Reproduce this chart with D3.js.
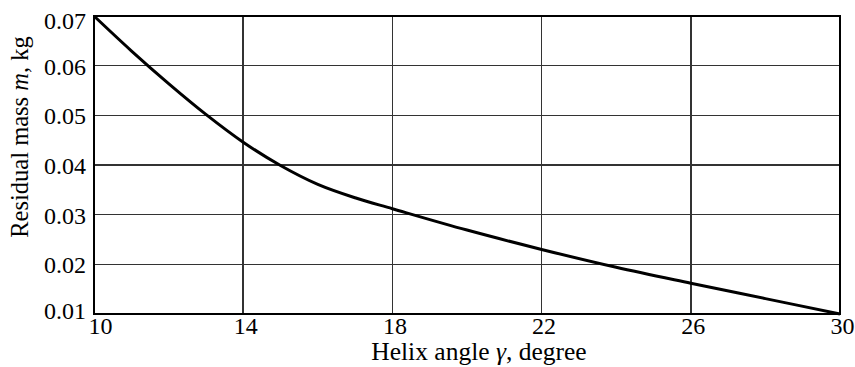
<!DOCTYPE html>
<meta charset="utf-8">
<style>
body { margin: 0; background: #fff; }
text { font-family: "Liberation Serif", "Times New Roman", serif; fill: #000; }
.grid line { stroke: #333; stroke-width: 1.5px; shape-rendering: crispEdges; }
</style>
<body>
<script src="https://d3js.org/d3.v7.min.js"></script>
<script>

// helix angle (degree) and residual mass (kg)
var angle = [10, 11, 12, 13, 14, 15, 16, 17, 18, 20, 22, 24, 26, 28, 30];
var mass  = [0.070, 0.0630, 0.0564, 0.0502, 0.0446, 0.0399, 0.0361, 0.0334, 0.0312, 0.0269, 0.0230, 0.0194, 0.0162, 0.0131, 0.0100];
var xTicks = [10, 14, 18, 22, 26, 30];
var yTicks = [0.01, 0.02, 0.03, 0.04, 0.05, 0.06, 0.07];

var W = 855, H = 367;
var m = {left: 94, right: 15, top: 16, bottom: 53};
var serif = "Liberation Serif, Times New Roman, serif";

var svg = d3.select("body").append("svg").attr("width", W).attr("height", H);

var x = d3.scaleLinear().domain([10, 30]).range([m.left, W - m.right]);
var y = d3.scaleLinear().domain([0.01, 0.07]).range([H - m.bottom, m.top]);

// grid
var grid = svg.append("g").attr("class", "grid");
grid.selectAll(".vx").data(xTicks).enter().append("line")
  .attr("x1", d => x(d)).attr("x2", d => x(d))
  .attr("y1", y(0.07)).attr("y2", y(0.01));
grid.selectAll(".hy").data(yTicks).enter().append("line")
  .attr("x1", x(10)).attr("x2", x(30))
  .attr("y1", d => y(d)).attr("y2", d => y(d));

// frame
svg.append("rect")
  .attr("x", x(10)).attr("y", y(0.07))
  .attr("width", x(30) - x(10)).attr("height", y(0.01) - y(0.07))
  .attr("fill", "none").attr("stroke", "#000").attr("stroke-width", 2);

// axes (labels only)
var xAxis = svg.append("g").attr("transform", "translate(0," + y(0.01) + ")")
  .call(d3.axisBottom(x).tickValues(xTicks).tickSize(0).tickPadding(3).tickFormat(d3.format("d")));
var yAxis = svg.append("g").attr("transform", "translate(" + x(10) + ",0)")
  .call(d3.axisLeft(y).tickValues(yTicks).tickSize(0).tickPadding(8).tickFormat(d3.format(".2f")));
svg.selectAll(".domain").remove();
[xAxis, yAxis].forEach(a => a.attr("font-family", serif).attr("font-size", 24));
xAxis.selectAll("text").attr("dy", "0.7em").attr("dx", d => d == 10 ? 6 : 2);
yAxis.selectAll("text").attr("dy", d => d == 0.01 ? "0.2em" : d == 0.07 ? "0.5em" : "0.36em");

// curve
svg.append("path")
  .datum(angle.map((a, i) => [a, mass[i]]))
  .attr("fill", "none").attr("stroke", "#000").attr("stroke-width", 3)
  .attr("stroke-linejoin", "round")
  .attr("d", d3.line().x(d => x(d[0])).y(d => y(d[1])).curve(d3.curveCatmullRom));

// titles
var xt = svg.append("text").attr("x", 479).attr("y", 360)
  .attr("text-anchor", "middle").style("font-size", "25.5px");
xt.append("tspan").text("Helix angle ");
xt.append("tspan").style("font-style", "italic").text("γ");
xt.append("tspan").text(", degree");

var yt = svg.append("text").attr("transform", "translate(28,137) rotate(-90)")
  .attr("text-anchor", "middle").style("font-size", "24.5px");
yt.append("tspan").text("Residual mass ");
yt.append("tspan").style("font-style", "italic").text("m");
yt.append("tspan").text(", kg");

</script>
</body>
